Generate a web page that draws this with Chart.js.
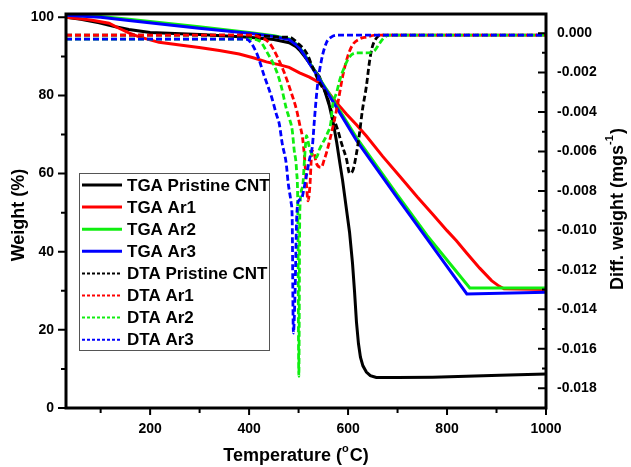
<!DOCTYPE html>
<html>
<head>
<meta charset="utf-8">
<script src="https://cdn.jsdelivr.net/npm/chart.js@4.4.1/dist/chart.umd.min.js"></script>
<style>
  body { margin: 0; background: #fff; }
  canvas { display: block; }
</style>
</head>
<body>
<canvas id="myChart" width="631" height="467"></canvas>
<script>
// TGA curves (weight %, left axis)
const tgaPristineT = [30, 60, 97, 130, 157, 200, 300, 400, 450, 481, 495, 502, 512, 522, 532, 542, 552, 562, 570, 577, 583, 589, 595, 603, 609, 613, 617, 621, 625, 630, 637, 645, 657, 700, 771, 907, 1000];
const tgaPristineW = [100, 99.5, 98.6, 97.6, 96.9, 96.1, 95.6, 94.9, 94.3, 93.5, 92.5, 91.6, 90, 88.3, 86.5, 84.8, 81.5, 77.5, 73, 68, 63, 58.2, 52.5, 45, 37, 30, 22, 16.5, 13, 10.8, 9.2, 8.3, 7.8, 7.8, 7.9, 8.4, 8.7];
const tgaAr1T = [30, 80, 117, 137, 157, 178, 218, 260, 299, 340, 380, 410, 435, 460, 481, 502, 522, 542, 556, 568, 582, 597, 617, 637, 670, 704, 740, 771, 800, 819, 840, 866, 890, 905, 915, 1000];
const tgaAr1W = [100, 99.3, 98.5, 97.2, 96, 95, 93.6, 92.9, 92.3, 91.5, 90.6, 89.6, 88.6, 87.9, 87.2, 85.8, 84.7, 83.3, 81.5, 79.5, 77.4, 75.2, 72.5, 69.6, 64.4, 59.4, 54, 49.6, 45.4, 42.8, 39.6, 35.8, 32.6, 31.2, 30.5, 30.3];
const tgaAr2T = [30, 100, 157, 299, 400, 450, 481, 495, 502, 512, 522, 532, 542, 552, 562, 617, 700, 760, 846, 1000];
const tgaAr2W = [100.6, 100.2, 99.5, 97.6, 96.1, 95.3, 94.5, 93.2, 92.3, 90.5, 88.4, 86.4, 84.4, 82.4, 80.4, 69.2, 54.5, 44.1, 30.7, 30.7];
const tgaAr3T = [30, 100, 157, 299, 400, 450, 481, 495, 502, 512, 522, 532, 542, 552, 562, 617, 700, 760, 840, 1000];
const tgaAr3W = [100.5, 100, 99.2, 97.2, 95.9, 95.1, 94.3, 93, 92.1, 90.3, 88.2, 86.2, 84.2, 82.1, 80, 68.5, 53.7, 43.2, 29.2, 29.6];

// DTA curves (mg/s, right axis)
const dtaPristineT = [30, 200, 400, 467, 481, 498, 516, 528, 542, 556, 568, 579, 587, 597, 603, 609, 617, 623, 629, 637, 643, 649, 659, 670, 800, 1000];
const dtaPristineV = [-0.0001, -0.0001, -0.0001, -0.0002, -0.0002, -0.0005, -0.0010, -0.0017, -0.0025, -0.0031, -0.0041, -0.0049, -0.0056, -0.0064, -0.0071, -0.0070, -0.0061, -0.0051, -0.0039, -0.0027, -0.0015, -0.0007, -0.0002, -0.0001, -0.0001, -0.0001];
const dtaAr1T = [30, 200, 400, 421, 441, 457, 471, 485, 496, 502, 508, 512, 516, 519, 523, 526, 530, 536, 546, 552, 556, 568, 579, 589, 599, 609, 623, 637, 657, 800, 1000];
const dtaAr1V = [-0.0001, -0.0001, -0.0001, -0.0002, -0.0005, -0.0012, -0.0020, -0.0030, -0.0039, -0.0046, -0.0053, -0.0063, -0.0077, -0.0085, -0.0077, -0.0063, -0.0060, -0.0066, -0.0068, -0.0064, -0.0061, -0.0049, -0.0036, -0.0022, -0.0012, -0.0006, -0.0003, -0.0002, -0.0001, -0.0001, -0.0001];
const dtaAr2T = [30, 200, 400, 421, 437, 455, 465, 475, 481, 487, 491, 496, 498.5, 500.5, 502.5, 508, 512, 516, 521, 526, 536, 542, 548, 558, 566, 568, 577, 583, 593, 603, 617, 637, 653, 664, 674, 684, 800, 1000];
const dtaAr2V = [-0.0003, -0.0003, -0.0003, -0.0004, -0.0010, -0.0019, -0.0027, -0.0038, -0.0043, -0.0049, -0.0059, -0.0070, -0.0090, -0.0174, -0.0090, -0.0078, -0.0064, -0.0052, -0.0057, -0.0061, -0.0063, -0.0059, -0.0056, -0.0051, -0.0044, -0.0038, -0.0030, -0.0024, -0.0017, -0.0012, -0.0010, -0.0010, -0.0009, -0.0005, -0.0002, -0.0001, -0.0001, -0.0001];
const dtaAr3T = [30, 200, 394, 415, 431, 445, 455, 461, 467, 475, 479, 485, 487, 489.5, 493, 496, 500, 506, 510, 516, 522, 528, 532, 538, 546, 556, 566, 583, 800, 1000];
const dtaAr3V = [-0.0003, -0.0003, -0.0003, -0.0010, -0.0022, -0.0032, -0.0041, -0.0046, -0.0056, -0.0066, -0.0076, -0.0086, -0.0093, -0.0152, -0.0130, -0.0095, -0.0085, -0.0084, -0.0080, -0.0072, -0.0064, -0.0057, -0.0044, -0.0027, -0.0014, -0.0005, -0.0002, -0.0001, -0.0001, -0.0001];

// ticks
const xMajor = [200, 400, 600, 800, 1000];
const xMinor = [100, 300, 500, 700, 900];
const yMajor = [0, 20, 40, 60, 80, 100];
const yMinor = [10, 30, 50, 70, 90];
const y2Major = [-0.018, -0.016, -0.014, -0.012, -0.010, -0.008, -0.006, -0.004, -0.002, 0];
const y2Minor = [-0.019, -0.017, -0.015, -0.013, -0.011, -0.009, -0.007, -0.005, -0.003, -0.001];

const labels = ['TGA Pristine CNT', 'TGA Ar1', 'TGA Ar2', 'TGA Ar3', 'DTA Pristine CNT', 'DTA Ar1', 'DTA Ar2', 'DTA Ar3'];
const colors = ['#000000', '#ff0000', '#10ee10', '#0000ff', '#000000', '#ff0000', '#10ee10', '#0000ff'];

const FONT = "'Liberation Sans', Arial, sans-serif";
Chart.defaults.font.family = FONT;
Chart.defaults.color = '#000';

function pts(xs, ys) {
  return xs.map((x, i) => ({ x: x, y: ys[i] }));
}

// TGA: straight segments between dense points (keeps the sharp corners)
function solid(i, xs, ys) {
  return {
    label: labels[i], data: pts(xs, ys), yAxisID: 'y',
    borderColor: colors[i], borderWidth: 3, pointRadius: 0,
    tension: 0, order: 10 - i
  };
}
function dashed(i, xs, ys) {
  return {
    label: labels[i], data: pts(xs, ys), yAxisID: 'y2',
    borderColor: colors[i], borderWidth: 2.8, borderDash: [6, 3], pointRadius: 0,
    cubicInterpolationMode: 'monotone', order: 10 - i
  };
}

// fixed axis sizes, no extra label padding so the plot box stays put
function fixSize(w, h) {
  return s => {
    if (w) s.width = w;
    if (h) s.height = h;
    s.paddingTop = 0; s.paddingBottom = 0; s.paddingLeft = 0; s.paddingRight = 0;
  };
}

// frame, tick marks, titles and legend
const decor = {
  id: 'decor',
  afterDraw(chart) {
    const ctx = chart.ctx;
    const a = chart.chartArea;
    const sx = chart.scales.x, sy = chart.scales.y, sy2 = chart.scales.y2;
    ctx.save();
    ctx.strokeStyle = '#000';
    ctx.lineWidth = 2;
    ctx.beginPath();
    xMajor.forEach(v => { const p = sx.getPixelForValue(v); ctx.moveTo(p, a.bottom); ctx.lineTo(p, a.bottom + 7); });
    xMinor.forEach(v => { const p = sx.getPixelForValue(v); ctx.moveTo(p, a.bottom); ctx.lineTo(p, a.bottom + 5); });
    yMajor.forEach(v => { const p = sy.getPixelForValue(v); ctx.moveTo(a.left, p); ctx.lineTo(a.left - 8, p); });
    yMinor.forEach(v => { const p = sy.getPixelForValue(v); ctx.moveTo(a.left, p); ctx.lineTo(a.left - 5, p); });
    y2Major.forEach(v => { const p = sy2.getPixelForValue(v); ctx.moveTo(a.right, p); ctx.lineTo(a.right - 8, p); });
    y2Minor.forEach(v => { const p = sy2.getPixelForValue(v); ctx.moveTo(a.right, p); ctx.lineTo(a.right - 4, p); });
    ctx.stroke();

    ctx.lineWidth = 3;
    ctx.strokeRect(a.left, a.top, a.right - a.left, a.bottom - a.top);

    // axis titles
    ctx.fillStyle = '#000';
    ctx.textBaseline = 'middle';
    ctx.font = 'bold 18px ' + FONT;
    ctx.save();
    ctx.translate(19, 215);
    ctx.rotate(-Math.PI / 2);
    ctx.textAlign = 'center';
    ctx.fillText('Weight (%)', 0, 0);
    ctx.restore();

    // bottom title with superscript o
    ctx.textAlign = 'left';
    const b1 = 'Temperature (', b3 = 'C)';
    ctx.font = 'bold 18px ' + FONT;
    const w1 = ctx.measureText(b1).width, w3 = ctx.measureText(b3).width;
    ctx.font = 'bold 11px ' + FONT;
    const w2 = ctx.measureText('o').width + 1;
    const bx = 296 - (w1 + w2 + w3) / 2;
    const by = 456;
    ctx.font = 'bold 18px ' + FONT;
    ctx.fillText(b1, bx, by);
    ctx.font = 'bold 11px ' + FONT;
    ctx.fillText('o', bx + w1, by - 7);
    ctx.font = 'bold 18px ' + FONT;
    ctx.fillText(b3, bx + w1 + w2, by);

    // right title, reading upward
    ctx.save();
    ctx.translate(618, 209);
    ctx.rotate(-Math.PI / 2);
    const r1 = 'Diff. weight (mgs', r3 = ')';
    ctx.font = 'bold 18px ' + FONT;
    const q1 = ctx.measureText(r1).width, q3 = ctx.measureText(r3).width;
    ctx.font = 'bold 11px ' + FONT;
    const q2 = ctx.measureText('-1').width + 1;
    const rx = -(q1 + q2 + q3) / 2;
    ctx.font = 'bold 18px ' + FONT;
    ctx.fillText(r1, rx, 0);
    ctx.font = 'bold 11px ' + FONT;
    ctx.fillText('-1', rx + q1, -8);
    ctx.font = 'bold 18px ' + FONT;
    ctx.fillText(r3, rx + q1 + q2, 0);
    ctx.restore();

    // legend box
    ctx.fillStyle = '#fff';
    ctx.fillRect(79, 173, 190, 177);
    ctx.strokeStyle = '#555';
    ctx.lineWidth = 1;
    ctx.strokeRect(79.5, 173.5, 190, 177);
    ctx.font = 'bold 17px ' + FONT;
    labels.forEach((lab, i) => {
      const ly = 185 + i * 22.1;
      ctx.strokeStyle = colors[i];
      if (i < 4) {
        ctx.lineWidth = 3;
        ctx.setLineDash([]);
      } else {
        ctx.lineWidth = 2;
        ctx.setLineDash([3, 2]);
      }
      ctx.beginPath();
      ctx.moveTo(82, ly);
      ctx.lineTo(122, ly);
      ctx.stroke();
      ctx.setLineDash([]);
      ctx.fillStyle = '#000';
      ctx.fillText(lab, 127, ly + 1);
    });
    ctx.restore();
  }
};

const tickFont = { size: 14, weight: 'bold' };
const ctx = document.getElementById('myChart');
new Chart(ctx, {
  type: 'line',
  data: {
    datasets: [
      solid(0, tgaPristineT, tgaPristineW),
      solid(1, tgaAr1T, tgaAr1W),
      solid(2, tgaAr2T, tgaAr2W),
      solid(3, tgaAr3T, tgaAr3W),
      dashed(4, dtaPristineT, dtaPristineV),
      dashed(5, dtaAr1T, dtaAr1V),
      dashed(6, dtaAr2T, dtaAr2V),
      dashed(7, dtaAr3T, dtaAr3V)
    ]
  },
  options: {
    responsive: false,
    animation: false,
    devicePixelRatio: 1,
    layout: { padding: { top: 14, left: 0, right: 0, bottom: 0 } },
    plugins: { legend: { display: false }, tooltip: { enabled: false } },
    scales: {
      x: {
        type: 'linear', min: 30, max: 1000,
        grid: { display: false, drawTicks: false }, border: { display: false },
        afterBuildTicks: s => { s.ticks = xMajor.map(v => ({ value: v })); },
        afterFit: fixSize(0, 59),
        ticks: { font: tickFont, padding: 13, maxRotation: 0, autoSkip: false, callback: v => String(v) }
      },
      y: {
        type: 'linear', position: 'left', min: 0, max: 100.85,
        grid: { display: false, drawTicks: false }, border: { display: false },
        afterBuildTicks: s => { s.ticks = yMajor.map(v => ({ value: v })); },
        afterFit: fixSize(66, 0),
        ticks: { font: tickFont, padding: 12, autoSkip: false, callback: v => String(v) }
      },
      y2: {
        type: 'linear', position: 'right', min: -0.019, max: 0.00097,
        grid: { display: false, drawTicks: false }, border: { display: false },
        afterBuildTicks: s => { s.ticks = y2Major.map(v => ({ value: v })); },
        afterFit: fixSize(85, 0),
        ticks: { font: tickFont, padding: 11, autoSkip: false, callback: v => v.toFixed(3) }
      }
    }
  },
  plugins: [decor]
});
</script>
</body>
</html>
